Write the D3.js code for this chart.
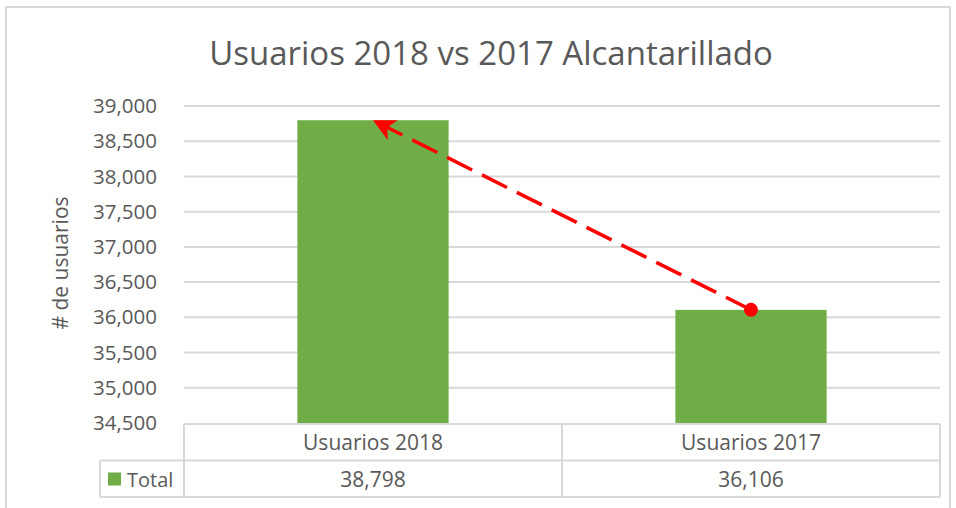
<!DOCTYPE html>
<html>
<head>
    <meta charset="utf-8">
    <script src="https://d3js.org/d3.v7.min.js"></script>
    <style>
        body { margin: 0; background: #fff; }
        text { font-family: "Open Sans", sans-serif; fill: #595959; }
    </style>
</head>
<body>
    <svg width="956" height="508"></svg>
    <script>
        var categories = ["Usuarios 2018", "Usuarios 2017"];
        var values = [38798, 36106];
        var seriesName = "Total";
        var yTicks = [34500, 35000, 35500, 36000, 36500, 37000, 37500, 38000, 38500, 39000];
        var title = "Usuarios 2018 vs 2017 Alcantarillado";
        var yTitle = "# de usuarios";

        var svg = d3.select("svg");
        var fmt = d3.format(",");

        // chart frame
        svg.append("rect")
            .attr("x", 6).attr("y", 7)
            .attr("width", 944).attr("height", 520)
            .attr("fill", "#fff")
            .attr("stroke", "#d9d9d9")
            .attr("stroke-width", 2);

        var plotLeft = 184, plotRight = 940, plotTop = 106, plotBottom = 423;

        var y = d3.scaleLinear().domain([34500, 39000]).range([plotBottom, plotTop]);
        var x = d3.scaleBand().domain(categories).range([plotLeft, plotRight])
            .paddingInner(0.6).paddingOuter(0.3);

        // title
        svg.append("text")
            .attr("x", 491).attr("y", 65)
            .attr("text-anchor", "middle")
            .style("font-size", "33px")
            .text(title);

        // gridlines
        svg.append("g").selectAll("line")
            .data(yTicks.slice(1))
            .enter().append("line")
            .attr("x1", plotLeft).attr("x2", plotRight)
            .attr("y1", function(d) { return y(d); })
            .attr("y2", function(d) { return y(d); })
            .attr("stroke", "#d9d9d9")
            .attr("stroke-width", 2);

        // y axis labels
        var yAxis = d3.axisLeft(y).tickValues(yTicks).tickFormat(fmt).tickSize(0).tickPadding(27);
        var ga = svg.append("g").attr("transform", "translate(" + plotLeft + ",0)").call(yAxis);
        ga.select(".domain").remove();
        ga.selectAll("text")
            .style("font-family", "'Open Sans', sans-serif")
            .style("font-size", "20.5px")
            .attr("fill", "#595959");

        // y title
        svg.append("text")
            .attr("transform", "translate(68,263) rotate(-90)")
            .attr("text-anchor", "middle")
            .style("font-size", "21px")
            .text(yTitle);

        // bars
        svg.append("g").selectAll("rect")
            .data(values)
            .enter().append("rect")
            .attr("x", function(d, i) { return x(categories[i]); })
            .attr("width", x.bandwidth())
            .attr("y", function(d) { return y(d); })
            .attr("height", function(d) { return y(34500) - y(d); })
            .attr("fill", "#70ad47");

        // data table
        var rowH = 36.5;
        var t0 = plotBottom + 1, t1 = t0 + rowH, t2 = t1 + rowH;
        var legendLeft = 100;
        var tbl = svg.append("g")
            .attr("stroke", "#d9d9d9")
            .attr("stroke-width", 2)
            .attr("fill", "none");
        tbl.append("line").attr("x1", plotLeft).attr("x2", plotRight).attr("y1", t0).attr("y2", t0);
        tbl.append("line").attr("x1", legendLeft).attr("x2", plotRight).attr("y1", t1).attr("y2", t1);
        tbl.append("line").attr("x1", legendLeft).attr("x2", plotRight).attr("y1", t2).attr("y2", t2);
        tbl.append("line").attr("x1", legendLeft).attr("x2", legendLeft).attr("y1", t1).attr("y2", t2);
        [plotLeft, plotLeft + (plotRight - plotLeft) / 2, plotRight].forEach(function(cx) {
            tbl.append("line").attr("x1", cx).attr("x2", cx).attr("y1", t0).attr("y2", t2);
        });

        var cellCenter = function(c) { return x(c) + x.bandwidth() / 2; };

        svg.append("g").selectAll("text.cat")
            .data(categories)
            .enter().append("text")
            .attr("x", cellCenter)
            .attr("y", t0 + 26)
            .attr("text-anchor", "middle")
            .style("font-size", "21px")
            .text(function(d) { return d; });

        svg.append("g").selectAll("text.val")
            .data(values)
            .enter().append("text")
            .attr("x", function(d, i) { return cellCenter(categories[i]); })
            .attr("y", t1 + 26)
            .attr("text-anchor", "middle")
            .style("font-size", "21px")
            .text(function(d) { return fmt(d); });

        svg.append("rect")
            .attr("x", 108).attr("y", t1 + 12)
            .attr("width", 13).attr("height", 13)
            .attr("fill", "#70ad47");
        svg.append("text")
            .attr("x", 127).attr("y", t1 + 26)
            .style("font-size", "20px")
            .text(seriesName);

        // red dashed arrow from 2017 top to 2018 top
        var x0 = cellCenter(categories[1]), y0 = y(values[1]);
        var x1 = cellCenter(categories[0]), y1 = y(values[0]);
        var ang = Math.atan2(y1 - y0, x1 - x0);
        var back = 14;
        svg.append("line")
            .attr("x1", x0).attr("y1", y0)
            .attr("x2", x1 - Math.cos(ang) * back).attr("y2", y1 - Math.sin(ang) * back)
            .attr("stroke", "#ff0000")
            .attr("stroke-width", 3.5)
            .attr("stroke-dasharray", "28,11");
        svg.append("path")
            .attr("transform", "translate(" + x1 + "," + y1 + ") rotate(" + (ang * 180 / Math.PI) + ")")
            .attr("d", "M0,0 L-22,-11 L-16,0 L-22,11 Z")
            .attr("fill", "#ff0000");
        svg.append("circle")
            .attr("cx", x0).attr("cy", y0).attr("r", 7)
            .attr("fill", "#ff0000");
    </script>
</body>
</html>
